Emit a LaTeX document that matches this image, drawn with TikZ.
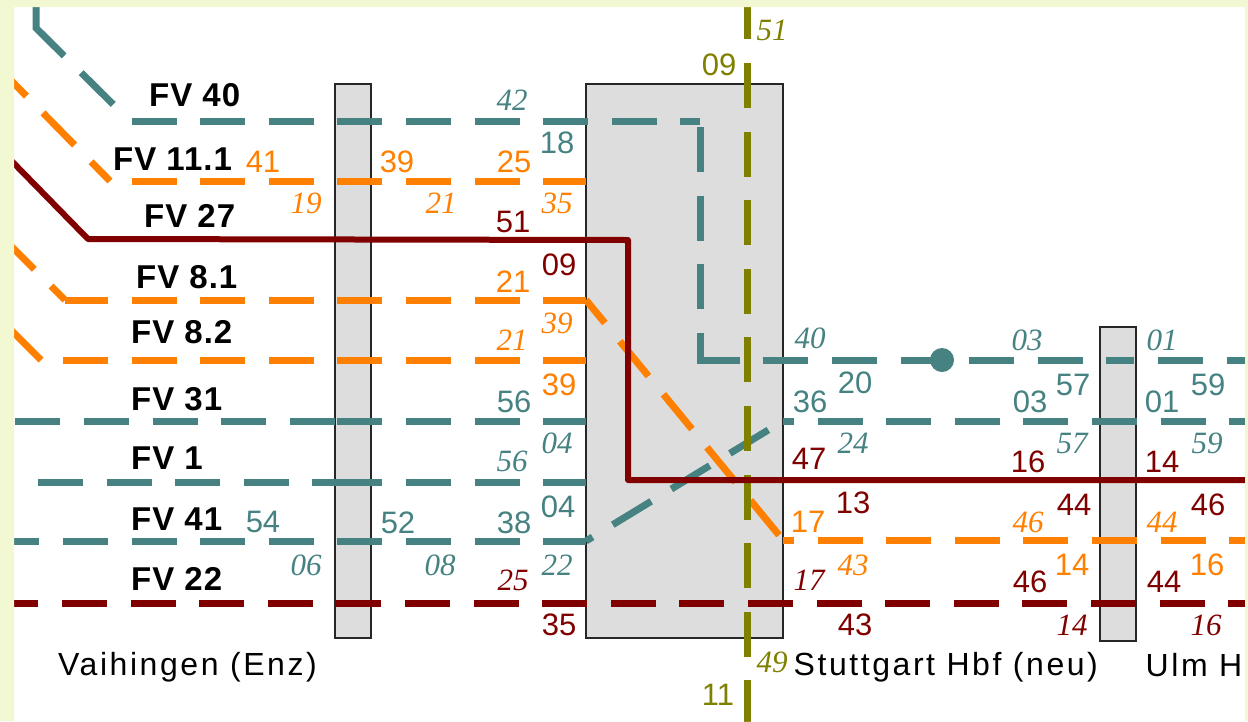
\documentclass[tikz,border=0pt]{standalone}
\usepackage{fontspec}
\setmainfont{Liberation Sans}
\newfontfamily\numit{Liberation Serif}
\newfontfamily\fvfont{Liberation Sans}[LetterSpace=3]
\newfontfamily\stfont{Liberation Sans}[LetterSpace=8]
\definecolor{cteal}{HTML}{468282}
\definecolor{corange}{HTML}{FF8000}
\definecolor{cred}{HTML}{800000}
\definecolor{colive}{HTML}{808000}
\definecolor{cbox}{HTML}{DDDDDD}
\definecolor{cbg}{HTML}{F2F9D2}
\tikzset{
  ln/.style={line width=7pt},
  dsh/.style={ln, dash pattern=on 45pt off 23.6pt, dash phase=#1pt},
  stbox/.style={draw=black!85, line width=1.4pt, fill=cbox, inner sep=0pt},
  lab/.style={inner sep=0pt, anchor=base, font=\fontsize{31}{31}\selectfont},
  labi/.style={inner sep=0pt, anchor=base, font=\numit\itshape\fontsize{31}{31}\selectfont},
  tu/.style={lab, text=cteal},
  ti/.style={labi, text=cteal},
  ou/.style={lab, text=corange},
  oi/.style={labi, text=corange},
  ru/.style={lab, text=cred},
  ri/.style={labi, text=cred},
  gu/.style={lab, text=colive},
  gi/.style={labi, text=colive},
  fv/.style={inner sep=0pt, anchor=base west, font=\fvfont\bfseries\fontsize{33}{33}\selectfont},
  stn/.style={inner sep=0pt, anchor=base west, font=\stfont\fontsize{32}{32}\selectfont},
}
\begin{document}
\begin{tikzpicture}[x=1pt,y=-1pt]
\useasboundingbox (0,0) rectangle (1248,721);
\fill[white] (0,0) rectangle (1248,721);

% station boxes
\node[stbox, minimum width=36pt, minimum height=554pt] (vai) at (353,361) {};
\node[stbox, minimum width=197pt, minimum height=554pt] (stg) at (684.5,361) {};
\node[stbox, minimum width=36pt, minimum height=314pt] (ulm) at (1118,484) {};

% coordinates
\coordinate (a1) at (36,-17);
\coordinate (a2) at (36,28);
\coordinate (a3) at (130,121);
\coordinate (a4) at (700,121);
\coordinate (a5) at (700,363.5);
\coordinate (a6) at (700,360);
\coordinate (a7) at (1118,360);
\coordinate (a8) at (1250,360);
\coordinate (b1) at (-10,421);
\coordinate (b2) at (337,421);
\coordinate (b3) at (586,421);
\coordinate (c1) at (-10,482);
\coordinate (c2) at (337,482);
\coordinate (c3) at (586,482);
\coordinate (d1) at (-10,541);
\coordinate (d2) at (586,541);
\coordinate (d3) at (783,421);
\coordinate (d4) at (1250,421);
\coordinate (e1) at (-12,57);
\coordinate (e2) at (110,181);
\coordinate (e3) at (586,181);
\coordinate (f1) at (-10,225);
\coordinate (f2) at (65,300);
\coordinate (f3) at (586,300);
\coordinate (f4) at (783,540);
\coordinate (f5) at (1250,540);
\coordinate (h1) at (-10,309);
\coordinate (h2) at (41,360);
\coordinate (h3) at (586,360);
\coordinate (r1) at (-5,144);
\coordinate (r2) at (88,239);
\coordinate (r3) at (628,240);
\coordinate (r4) at (628,480);
\coordinate (r5) at (1250,480);
\coordinate (s1) at (-10,603);
\coordinate (s2) at (1250,603);
\coordinate (g1) at (747,-10);
\coordinate (g2) at (747,730);

% teal lines
\draw[cteal, ln, dash pattern=on 84.6pt off 24pt on 45pt off 60pt] (a1) -- (a2) -- (a3);
\draw[cteal, dsh=67] (a3) -- (a4);
\draw[cteal, dsh=62.6] (a4) -- (a5);
\draw[cteal, dsh=5.2] (a6) -- (a7);
\draw[cteal, dsh=28.6] (a7) -- (a8);
\node[circle, fill=cteal, minimum size=24pt, inner sep=0pt] (dot) at (942,360) {};
\draw[cteal, dsh=43.2] (b1) -- (b2);
\draw[cteal, dsh=68.2] (b2) -- (b3);
\draw[cteal, dsh=20.6] (c1) -- (c2);
\draw[cteal, dsh=68.2] (c2) -- (c3);
\draw[cteal, dsh=64.2] (d1) -- (d2);
\draw[cteal, dsh=37.3] (d2) -- (d3);
\draw[cteal, dsh=34] (d3) -- (d4);

% orange lines
\draw[corange, dsh=18.1] (e2) -- (e1);
\draw[corange, dsh=47] (e2) -- (e3);
\draw[corange, dsh=25.2] (f2) -- (f1);
\draw[corange, dsh=2] (f2) -- (f3);
\draw[corange, dsh=15.2] (f3) -- (f4);
\draw[corange, dsh=34] (f4) -- (f5);
\draw[corange, dsh=0] (h2) -- (h1);
\draw[corange, dsh=46.6] (h2) -- (h3);

% olive line
\draw[colive, dsh=64.2] (g1) -- (g2);

% dark red lines
\draw[cred, line width=6pt, line join=round] (r1) -- (r2) -- (r3) -- (r4) -- (r5);
\draw[cred, dsh=65.2] (s1) -- (s2);

% route labels
\node[fv] (fv40) at (149,106) {FV 40};
\node[fv] (fv111) at (113,170) {FV 11.1};
\node[fv] (fv27) at (144,227) {FV 27};
\node[fv] (fv81) at (136,288) {FV 8.1};
\node[fv] (fv82) at (131,343) {FV 8.2};
\node[fv] (fv31) at (131,410) {FV 31};
\node[fv] (fv1) at (131,469) {FV 1};
\node[fv] (fv41) at (131,530) {FV 41};
\node[fv] (fv22) at (131,590) {FV 22};

% station labels
\node[stn] (nvai) at (58,675) {Vaihingen (Enz)};
\node[stn] (nstg) at (793.5,675) {Stuttgart Hbf (neu)};
\node[stn] (nulm) at (1145.5,676) {Ulm H};

% teal upright
\node[tu] (t1) at (557,153) {18};
\node[tu] (t2) at (514,412) {56};
\node[tu] (t3) at (810,412) {36};
\node[tu] (t4) at (855,393) {20};
\node[tu] (t5) at (1030,412) {03};
\node[tu] (t6) at (1073,395) {57};
\node[tu] (t7) at (1162,412) {01};
\node[tu] (t8) at (1208,395) {59};
\node[tu] (t9) at (558,517) {04};
\node[tu] (t10) at (514,533) {38};
\node[tu] (t11) at (398,533) {52};
\node[tu] (t12) at (263,532) {54};
% teal italic
\node[ti] (u1) at (512,110) {42};
\node[ti] (u2) at (810,348) {40};
\node[ti] (u3) at (1027,350) {03};
\node[ti] (u4) at (1162,350) {01};
\node[ti] (u5) at (853,453) {24};
\node[ti] (u6) at (1072,453) {57};
\node[ti] (u7) at (1207,453) {59};
\node[ti] (u8) at (557,453) {04};
\node[ti] (u9) at (512,471) {56};
\node[ti] (u10) at (306,575) {06};
\node[ti] (u11) at (440,575) {08};
\node[ti] (u12) at (557,575) {22};
% orange upright
\node[ou] (o1) at (263,172) {41};
\node[ou] (o2) at (397,172) {39};
\node[ou] (o3) at (514,172) {25};
\node[ou] (o4) at (513,292) {21};
\node[ou] (o5) at (559,395) {39};
\node[ou] (o6) at (808,532) {17};
\node[ou] (o7) at (1072,575) {14};
\node[ou] (o8) at (1207,575) {16};
% orange italic
\node[oi] (p1) at (306,213) {19};
\node[oi] (p2) at (441,213) {21};
\node[oi] (p3) at (557,213) {35};
\node[oi] (p4) at (557,333) {39};
\node[oi] (p5) at (512,350) {21};
\node[oi] (p6) at (853,575) {43};
\node[oi] (p7) at (1028,532) {46};
\node[oi] (p8) at (1162,532) {44};
% dark red upright
\node[ru] (q1) at (513,232) {51};
\node[ru] (q2) at (559,275) {09};
\node[ru] (q3) at (809,469) {47};
\node[ru] (q4) at (1028,472) {16};
\node[ru] (q5) at (1162,472) {14};
\node[ru] (q6) at (853,513) {13};
\node[ru] (q7) at (1074,515) {44};
\node[ru] (q8) at (1208,515) {46};
\node[ru] (q9) at (1030,592) {46};
\node[ru] (q10) at (1164,592) {44};
\node[ru] (q11) at (559,635) {35};
\node[ru] (q12) at (855,635) {43};
% dark red italic
\node[ri] (v1) at (513,590) {25};
\node[ri] (v2) at (809,590) {17};
\node[ri] (v3) at (1072,635) {14};
\node[ri] (v4) at (1206,635) {16};
% olive
\node[gu] (w1) at (719,75) {09};
\node[gu] (w2) at (718,705) {11};
\node[gi] (w3) at (772,40) {51};
\node[gi] (w4) at (772,672) {49};

% outer frame
\fill[cbg, even odd rule] (0,0) rectangle (1248,721) (14,7) rectangle (1245,721);
\end{tikzpicture}
\end{document}
